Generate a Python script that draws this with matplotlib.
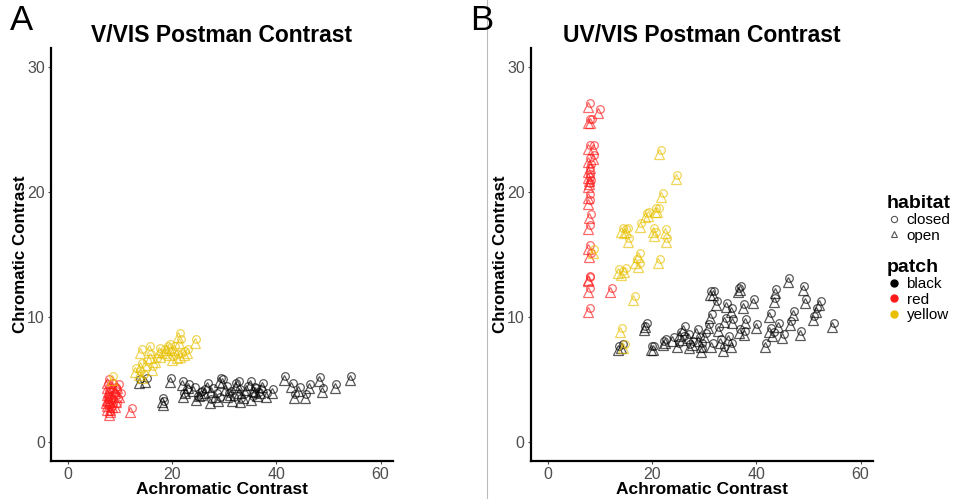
import matplotlib.pyplot as plt
import matplotlib.transforms as mtransforms
from matplotlib.lines import Line2D

plt.rcParams['font.family'] = ['Liberation Sans', 'DejaVu Sans']

# ---- panel A: V/VIS ----
a_black_x = [13.6, 14.8, 19.5, 18.0, 18.2, 21.8, 23.0, 22.5, 24.0, 25.2, 26.6, 27.5, 28.3, 29.5,
             30.2, 31.0, 32.0, 32.8, 33.5, 34.9, 35.6, 36.3, 37.2, 24.6, 26.0, 28.8, 30.6, 33.0,
             35.2, 36.8, 38.0, 39.1, 35.8, 41.4, 42.9, 43.3, 44.2, 45.4, 46.2, 48.1, 48.7, 51.2,
             54.1, 22.0, 29.0, 31.5, 34.2, 27.2, 25.5, 32.5]
a_black_y = [4.7, 4.8, 4.8, 3.2, 3.0, 4.6, 4.3, 3.9, 4.1, 3.7, 4.4, 4.0, 3.6, 4.7, 4.2, 3.8, 4.4,
             3.9, 3.5, 4.6, 4.1, 3.7, 4.4, 3.4, 3.9, 3.3, 3.6, 3.2, 3.4, 3.9, 3.6, 3.9, 4.0, 5.0,
             4.4, 3.5, 4.1, 3.5, 4.3, 4.9, 4.0, 4.3, 5.0, 3.6, 4.8, 3.3, 4.2, 3.1, 3.8, 4.6]
a_red_x = [7.5, 8.4, 9.4, 9.0, 9.8, 7.5, 7.5, 8.0, 7.5, 8.4, 7.5, 8.0, 8.7, 9.2, 9.0, 7.7,
           11.9, 7.3, 8.2, 7.8, 8.9, 7.6, 8.1, 7.4]
a_red_y = [4.7, 4.4, 4.3, 3.9, 3.6, 3.8, 3.4, 3.2, 2.9, 2.8, 2.6, 2.4, 3.6, 3.2, 2.8, 4.0,
           2.4, 3.1, 3.7, 2.2, 4.1, 3.3, 2.6, 4.3]
a_yellow_x = [13.8, 15.5, 17.4, 18.4, 19.3, 20.3, 21.1, 21.3, 24.3, 22.8, 21.5, 20.9, 16.7,
              16.1, 14.8, 13.8, 12.8, 13.6, 14.2, 15.7, 17.6, 19.4, 19.9, 8.4, 18.8, 22.2]
a_yellow_y = [7.1, 7.4, 7.2, 7.1, 7.5, 7.4, 8.4, 7.9, 7.9, 7.1, 6.8, 6.7, 6.4, 5.8, 6.2, 6.0,
              5.6, 5.4, 5.1, 6.7, 6.8, 7.0, 6.6, 5.0, 7.4, 7.0]

# ---- panel B: UV/VIS ----
b_black_x = [46.0, 48.9, 52.1, 49.3, 51.4, 50.8, 54.6, 48.3, 45.0, 43.5, 43.3, 42.5, 47.0, 46.4,
             44.1, 42.5, 43.0, 39.9, 41.6, 36.8, 39.3, 37.4, 31.6, 32.2, 34.1, 35.1, 31.1, 33.8,
             35.3, 37.8, 25.9, 30.7, 32.6, 36.6, 37.6, 22.4, 23.8, 26.8, 28.8, 29.3, 31.3, 33.0,
             35.1, 20.1, 24.8, 27.6, 25.2, 28.4, 25.8, 29.3, 31.0, 36.4, 13.4, 14.0, 18.6, 18.4,
             19.7, 22.0, 30.0, 34.5, 27.0, 33.5]
b_black_y = [12.8, 12.2, 11.0, 11.1, 10.4, 9.8, 9.2, 8.6, 8.3, 11.9, 11.2, 10.0, 10.2, 9.4, 9.2,
             8.8, 8.5, 9.1, 7.6, 12.2, 11.1, 10.7, 11.8, 11.0, 10.8, 10.4, 9.9, 9.6, 9.5, 9.5,
             9.0, 9.1, 8.9, 8.7, 8.6, 7.9, 8.1, 8.3, 8.1, 7.6, 7.6, 7.9, 7.6, 7.4, 7.6, 7.8, 8.5,
             8.7, 8.2, 7.2, 11.8, 12.0, 7.4, 7.5, 9.2, 9.0, 7.4, 7.8, 8.4, 8.2, 7.5, 7.3]
b_red_x = [7.7, 9.6, 7.7, 8.1, 7.7, 8.6, 8.6, 7.7, 7.7, 7.7, 7.9, 7.7, 7.7, 7.7, 7.9, 7.7,
           7.7, 7.9, 7.7, 7.7, 7.7, 11.9, 7.7, 8.0, 7.8]
b_red_y = [26.8, 26.3, 25.5, 25.5, 23.4, 23.4, 22.6, 22.4, 21.6, 21.1, 20.6, 20.4, 19.5, 19.0,
           17.9, 17.0, 15.4, 14.8, 13.0, 12.9, 12.0, 12.0, 10.4, 21.9, 20.9]
b_yellow_x = [21.3, 24.5, 21.7, 18.6, 19.1, 20.5, 21.0, 17.6, 14.0, 14.6, 15.0, 15.3, 20.1, 20.4,
              22.4, 22.6, 17.3, 16.7, 17.3, 21.1, 13.4, 14.0, 14.6, 8.6, 16.3, 13.8, 14.4]
b_yellow_y = [23.0, 21.0, 19.6, 18.0, 18.1, 18.4, 18.4, 17.2, 16.8, 16.7, 16.8, 16.0, 16.8, 16.5,
              16.7, 16.0, 14.8, 14.3, 14.0, 14.3, 13.5, 13.4, 13.6, 15.1, 11.4, 8.8, 7.5]

panels = [
    ("A", "V/VIS Postman Contrast", [(a_black_x, a_black_y), (a_red_x, a_red_y), (a_yellow_x, a_yellow_y)]),
    ("B", "UV/VIS Postman Contrast", [(b_black_x, b_black_y), (b_red_x, b_red_y), (b_yellow_x, b_yellow_y)]),
]
patch_names = ["black", "red", "yellow"]
patch_colors = ["black", "#FF1A1A", "#E8C000"]

fig = plt.figure(figsize=(9.63, 4.99), dpi=100)
lefts = [51 / 963, 531 / 963]
letter_x = [10 / 963, 470 / 963]
width = 342 / 963
tick_col = "#4D4D4D"

for (letter, title, series), left, lx in zip(panels, lefts, letter_x):
    ax = fig.add_axes([left, 38 / 499, width, 413 / 499])
    # circle sits a few pixels up/right of its triangle, as in the original
    offset = mtransforms.ScaledTranslation(1.5 / 100, 4 / 100, fig.dpi_scale_trans)
    for (xs, ys), col in zip(series, patch_colors):
        ax.plot(xs, ys, ls="none", marker="^", ms=6.5, mfc="none", mec=col, mew=0.9, alpha=0.65)
        ax.plot(xs, ys, ls="none", marker="o", ms=5.5, mfc="none", mec=col, mew=0.9, alpha=0.65,
                transform=ax.transData + offset)
    ax.set_xlim(-3.3, 62.4)
    ax.set_ylim(-1.5, 31.5)
    ax.set_xticks([0, 20, 40, 60])
    ax.set_yticks([0, 10, 20, 30])
    ax.tick_params(colors=tick_col, labelsize=11.5, length=2.5, width=0.8, pad=2,
                   labelcolor=tick_col)
    for s in ["top", "right"]:
        ax.spines[s].set_visible(False)
    for s in ["left", "bottom"]:
        ax.spines[s].set_linewidth(1.6)
        ax.spines[s].set_color("black")
    ax.set_title(title, fontsize=16.5, fontweight="bold", pad=4)
    ax.set_xlabel("Achromatic Contrast", fontsize=12.5, fontweight="bold", labelpad=0)
    ax.set_ylabel("Chromatic Contrast", fontsize=12.2, fontweight="bold", labelpad=-1)
    fig.text(lx, 1 - 21 / 499, letter, fontsize=25, ha="left", va="center")

# thin separator between panels
fig.add_artist(Line2D([487 / 963, 487 / 963], [0, 1], color="#BBBBBB", lw=0.8))

habitat_handles = [
    Line2D([], [], ls="none", marker="o", ms=4.5, mfc="none", mec="#555555", mew=0.8, label="closed"),
    Line2D([], [], ls="none", marker="^", ms=5, mfc="none", mec="#555555", mew=0.8, label="open"),
]
patch_handles = [Line2D([], [], ls="none", marker="o", ms=5, color=c, label=n)
                 for n, c in zip(patch_names, patch_colors)]

leg1 = fig.legend(handles=habitat_handles, title="habitat", loc="upper left",
                  bbox_to_anchor=(879 / 963, 1 - 187 / 499), frameon=False, fontsize=11,
                  handlelength=1, handletextpad=0.3, labelspacing=0.1, borderpad=0,
                  alignment="left")
leg1.get_title().set_fontweight("bold")
leg1.get_title().set_fontsize(14)
leg2 = fig.legend(handles=patch_handles, title="patch", loc="upper left",
                  bbox_to_anchor=(879 / 963, 1 - 251 / 499), frameon=False, fontsize=11,
                  handlelength=1, handletextpad=0.3, labelspacing=0.1, borderpad=0,
                  alignment="left")
leg2.get_title().set_fontweight("bold")
leg2.get_title().set_fontsize(14)

fig.savefig("out.png", dpi=100)
